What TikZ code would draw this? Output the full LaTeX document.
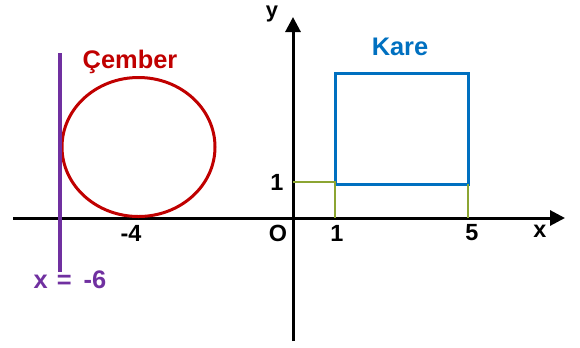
\documentclass[tikz,border=0pt]{standalone}
\usepackage{fontspec}
\setmainfont{Liberation Sans}
\usetikzlibrary{arrows.meta,shapes.geometric}
\definecolor{cred}{RGB}{192,0,0}
\definecolor{cblue}{RGB}{0,112,192}
\definecolor{cpurple}{RGB}{112,48,160}
\definecolor{colive}{RGB}{140,165,50}
\begin{document}
\begin{tikzpicture}[x=1bp,y=-1bp,
  axis/.style={line width=3bp,-{Triangle[length=15bp,width=15bp]}},
  lbl/.style={font=\bfseries\fontsize{23.5}{23.5}\selectfont,inner sep=0pt},
  big/.style={font=\bfseries\fontsize{25.5}{25.5}\selectfont,inner sep=0pt},
  guide/.style={colive,line width=2bp}]
\useasboundingbox (0,0) rectangle (580,347);
% axes
\coordinate (xs) at (13,218);
\coordinate (xe) at (565,218);
\coordinate (ys) at (293,341);
\coordinate (ye) at (293,17);
\draw[axis] (xs) -- (xe);
\draw[axis] (ys) -- (ye);
% square
\node[draw=cblue,line width=3bp,minimum width=133bp,minimum height=111bp,inner sep=0pt] (sq) at (401.5,128.5) {};
% guides
\coordinate (g1) at (293,182);
\coordinate (g2) at (335,182);
\coordinate (g3) at (335,218);
\coordinate (g4) at (468,184);
\coordinate (g5) at (468,218);
\draw[guide] (g1) -- (g2) -- (g3);
\draw[guide] (g4) -- (g5);
% circle
\node[draw=cred,line width=3bp,ellipse,minimum width=153bp,minimum height=139bp,inner sep=0pt] (c) at (138.5,147) {};
% purple line
\coordinate (p1) at (60,53);
\coordinate (p2) at (60,272);
\draw[cpurple,line width=4bp] (p1) -- (p2);
% labels
\node[big,text=cred] (lc) at (130,62) {Çember};
\node[big,text=cblue] (lk) at (400,47) {Kare};
\node[big,text=cpurple] (lp) at (70,280) {x\hspace{9bp}=\hspace{12bp}-6};
\node[lbl,font=\bfseries\fontsize{22}{22}\selectfont,anchor=base] (ly) at (272,17) {y};
\node[lbl] (lx) at (540,231) {x};
\node[lbl] (lo) at (278,233) {O};
\node[lbl] (l1) at (337,233) {1};
\node[lbl] (l5) at (472,233) {5};
\node[lbl] (lm4) at (131,233) {-4};
\node[lbl] (ly1) at (277,182) {1};
\end{tikzpicture}
\end{document}
